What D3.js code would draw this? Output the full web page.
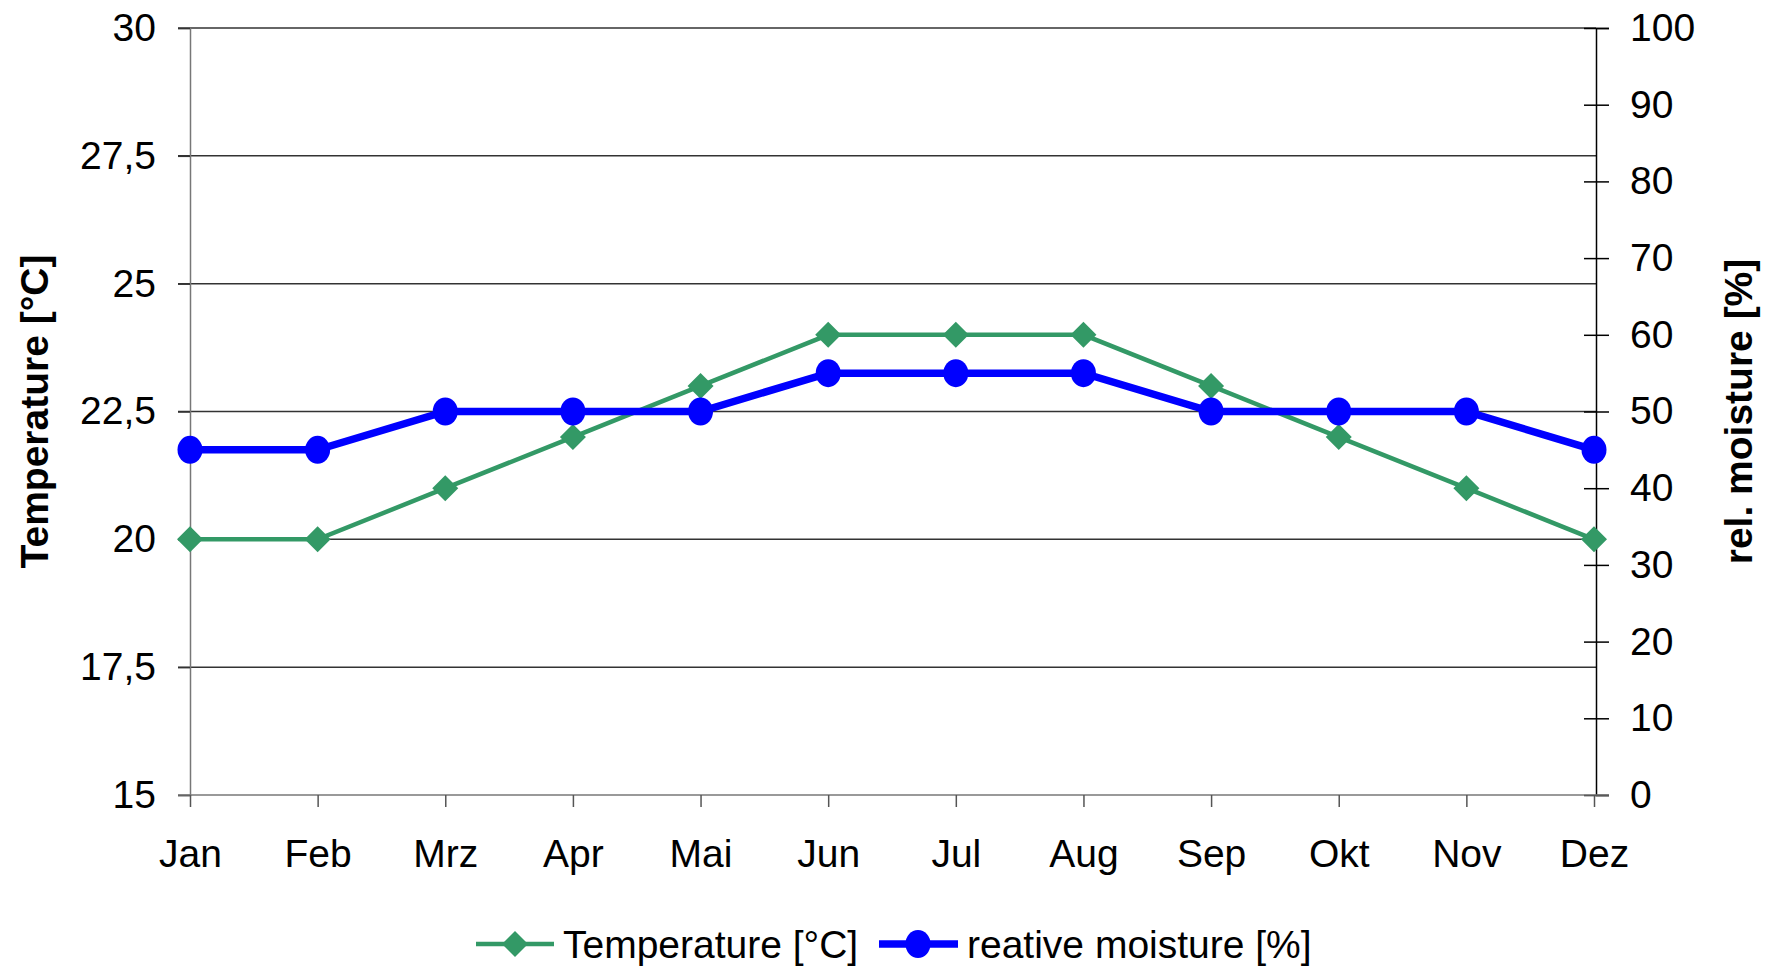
<!DOCTYPE html>
<html><head><meta charset="utf-8">
<script src="https://cdn.jsdelivr.net/npm/d3@7"></script>
<style>body{margin:0;background:#fff}svg{display:block;font-family:"Liberation Sans",Arial,sans-serif}</style>
</head><body>
<svg id="chart" width="1767" height="968"></svg>
<script>
const months = ["Jan","Feb","Mrz","Apr","Mai","Jun","Jul","Aug","Sep","Okt","Nov","Dez"];
const temperature = [20,20,21,22,23,24,24,24,23,22,21,20];
const moisture = [45,45,50,50,50,55,55,55,50,50,50,45];
const leftTicks = [15,17.5,20,22.5,25,27.5,30];
const rightTicks = [0,10,20,30,40,50,60,70,80,90,100];

const svg = d3.select("#chart");
const L = 190, R = 1596, T = 28, B = 795;
const FS = 39;
const x = d3.scalePoint().domain(months).range([L, R-2]).padding(0);
const yL = d3.scaleLinear().domain([15,30]).range([B, T]);
const yR = d3.scaleLinear().domain([0,100]).range([B, T]);
const fmt = d => String(d).replace(".", ",");

// gridlines
svg.append("g").selectAll("line").data(leftTicks.filter(d=>d>15)).join("line")
  .attr("x1", L-12).attr("x2", R).attr("y1", d=>yL(d)).attr("y2", d=>yL(d))
  .attr("stroke", "#333").attr("stroke-width", 1.5);

// left axis
const gL = svg.append("g").attr("transform", `translate(${L},0)`)
  .call(d3.axisLeft(yL).tickValues(leftTicks).tickFormat(fmt).tickSize(12).tickPadding(22));
gL.select(".domain").attr("stroke", "#777").attr("stroke-width", 1.5);
gL.selectAll(".tick line").attr("stroke", "#333").attr("stroke-width", 1.5);
gL.selectAll("text").attr("font-size", FS).attr("fill", "#000").attr("font-family", "Liberation Sans, Arial, sans-serif");

// right axis
const gR = svg.append("g").attr("transform", `translate(${R},0)`)
  .call(d3.axisRight(yR).tickValues(rightTicks).tickSize(13).tickPadding(21));
gR.select(".domain").attr("stroke", "#000").attr("stroke-width", 1.5);
gR.selectAll(".tick line").attr("stroke", "#000").attr("stroke-width", 1.5).attr("x1", -12);
gR.selectAll("text").attr("font-size", FS).attr("fill", "#000").attr("font-family", "Liberation Sans, Arial, sans-serif");

// bottom axis
const gB = svg.append("g").attr("transform", `translate(0,${B})`)
  .call(d3.axisBottom(x).tickSize(12).tickPadding(32));
gB.select(".domain").attr("stroke", "#777").attr("stroke-width", 1.5).attr("d", `M${L-12},0H${R+13}`);
gB.selectAll(".tick line").attr("stroke", "#555").attr("stroke-width", 1.5);
gB.selectAll("text").attr("font-size", FS).attr("fill", "#000").attr("font-family", "Liberation Sans, Arial, sans-serif");

// axis titles
svg.append("text").attr("transform", `translate(48,${(T+B)/2}) rotate(-90)`)
  .attr("text-anchor","middle").attr("font-size",FS).attr("font-weight","bold").text("Temperature [°C]");
svg.append("text").attr("transform", `translate(1752,${(T+B)/2}) rotate(-90)`)
  .attr("text-anchor","middle").attr("font-size",FS).attr("font-weight","bold").text("rel. moisture [%]");

const green = "#339966", blue = "#0000FF";
const diamond = (cx, cy, s) => `M${cx},${cy-s}L${cx+s},${cy}L${cx},${cy+s}L${cx-s},${cy}Z`;

// temperature series
svg.append("path").datum(temperature)
  .attr("d", d3.line().x((d,i)=>x(months[i])).y(d=>yL(d)))
  .attr("fill","none").attr("stroke",green).attr("stroke-width",4.5);
svg.append("g").selectAll("path").data(temperature).join("path")
  .attr("d",(d,i)=>diamond(x(months[i]), yL(d), 13)).attr("fill",green);

// moisture series
svg.append("path").datum(moisture)
  .attr("d", d3.line().x((d,i)=>x(months[i])).y(d=>yR(d)))
  .attr("fill","none").attr("stroke",blue).attr("stroke-width",7.5);
svg.append("g").selectAll("ellipse").data(moisture).join("ellipse")
  .attr("cx",(d,i)=>x(months[i])).attr("cy",d=>yR(d)).attr("rx",12.5).attr("ry",14).attr("fill",blue);

// legend
const ly = 944;
const lg = svg.append("g");
lg.append("line").attr("x1",476).attr("x2",554).attr("y1",ly).attr("y2",ly).attr("stroke",green).attr("stroke-width",4.5);
lg.append("path").attr("d",diamond(515,ly,13)).attr("fill",green);
lg.append("text").attr("x",563).attr("y",ly).attr("dy","0.35em").attr("font-size",FS).text("Temperature [°C]");
lg.append("line").attr("x1",879).attr("x2",958).attr("y1",ly).attr("y2",ly).attr("stroke",blue).attr("stroke-width",7.5);
lg.append("ellipse").attr("cx",918).attr("cy",ly).attr("rx",12.5).attr("ry",14).attr("fill",blue);
lg.append("text").attr("x",967).attr("y",ly).attr("dy","0.35em").attr("font-size",FS).text("reative moisture [%]");
</script>
</body></html>
